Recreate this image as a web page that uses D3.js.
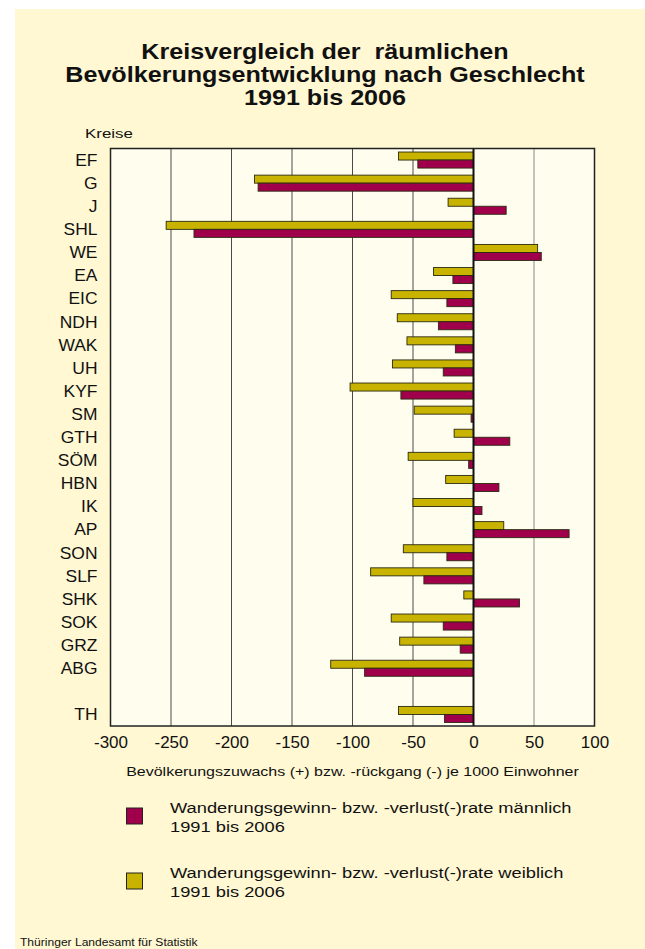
<!DOCTYPE html>
<html>
<head>
<meta charset="utf-8">
<script src="https://cdn.jsdelivr.net/npm/d3@7"></script>
<style>
  html, body { margin: 0; padding: 0; background: #ffffff; }
  svg { display: block; font-family: "Liberation Sans", Arial, sans-serif; }
  text { white-space: pre; }
</style>
</head>
<body>
<svg id="chart" width="645" height="949"></svg>
<script>
const categories = ["EF","G","J","SHL","WE","EA","EIC","NDH","WAK","UH","KYF","SM","GTH","SÖM","HBN","IK","AP","SON","SLF","SHK","SOK","GRZ","ABG","TH"];
const weiblich = [-62, -181, -21, -254, 53, -33, -68, -63, -55, -67, -102, -49, -16, -54, -23, -50, 25, -58, -85, -8, -68, -61, -118, -62];
const maennlich = [-46, -178, 27, -231, 56, -17, -22, -29, -15, -25, -60, -2, 30, -4, 21, 7, 79, -22, -41, 38, -25, -11, -90, -24];
const xTicks = [-300, -250, -200, -150, -100, -50, 0, 50, 100];
const titleLines = ["Kreisvergleich der  räumlichen", "Bevölkerungsentwicklung nach Geschlecht", "1991 bis 2006"];
const legendItems = [
  {key: "m", line1: "Wanderungsgewinn- bzw. -verlust(-)rate männlich", line2: "1991 bis 2006"},
  {key: "w", line1: "Wanderungsgewinn- bzw. -verlust(-)rate weiblich", line2: "1991 bis 2006"}
];
const colors = {w: "#c8b400", m: "#a0004b"};

const svg = d3.select("#chart");
svg.append("rect").attr("x", 15).attr("y", 9).attr("width", 630).attr("height", 940).attr("fill", "#fff8d3");

function stext(parent, x, y, txt, size, sx, anchor, weight) {
  return parent.append("text")
    .attr("transform", `translate(${x},${y}) scale(${sx},1)`)
    .attr("text-anchor", anchor || "start")
    .attr("font-size", size)
    .attr("font-weight", weight || "normal")
    .attr("fill", "#111")
    .text(txt);
}

const plot = {left: 110.5, right: 594.5, top: 148.5, bottom: 726};
const x = d3.scaleLinear().domain([-300, 100]).range([plot.left, plot.right]);
const domainY = [...categories.slice(0, -1), "__gap__", categories[categories.length - 1]];
const y = d3.scaleBand().domain(domainY).range([plot.top, plot.bottom]).padding(0);
const sub = d3.scaleBand().domain(["w", "m"]).range([0, y.bandwidth()]).paddingInner(0).paddingOuter(0.44).align(0.5);

svg.append("rect").attr("x", plot.left).attr("y", plot.top)
  .attr("width", plot.right - plot.left).attr("height", plot.bottom - plot.top)
  .attr("fill", "#fffdee");

// title
titleLines.forEach((t, i) => stext(svg, 325, [59, 82, 105][i], t, 21.5, 1.17, "middle", "bold"));

// gridlines
svg.append("g").selectAll("line").data(xTicks.filter(t => t > -300 && t < 100 && t !== 0)).join("line")
  .attr("x1", d => x(d)).attr("x2", d => x(d))
  .attr("y1", plot.top).attr("y2", plot.bottom)
  .attr("stroke", d => d > 0 ? "#8a8a8a" : "#4a4a4a").attr("stroke-width", 1);

// bars
const rows = categories.map((c, i) => ({c, w: weiblich[i], m: maennlich[i]}));
const g = svg.append("g");
rows.forEach(r => {
  ["w", "m"].forEach(k => {
    const v = r[k];
    g.append("rect")
      .attr("x", x(Math.min(0, v)))
      .attr("y", y(r.c) + sub(k))
      .attr("width", Math.abs(x(v) - x(0)))
      .attr("height", sub.bandwidth())
      .attr("fill", colors[k])
      .attr("stroke", "#2a2a10").attr("stroke-width", 0.9);
  });
});

// zero line
svg.append("line").attr("x1", x(0)).attr("x2", x(0)).attr("y1", plot.top).attr("y2", plot.bottom)
  .attr("stroke", "#111").attr("stroke-width", 2);

// border
svg.append("rect").attr("x", plot.left).attr("y", plot.top)
  .attr("width", plot.right - plot.left).attr("height", plot.bottom - plot.top)
  .attr("fill", "none").attr("stroke", "#222").attr("stroke-width", 1.5);

// x axis labels
const xAxis = d3.axisBottom(x).tickValues(xTicks).tickSize(0).tickFormat(d => String(d));
const xg = svg.append("g").attr("transform", `translate(0,${plot.bottom})`).call(xAxis);
xg.select(".domain").remove();
xg.selectAll("text").attr("font-size", 16.5).attr("fill", "#111")
  .attr("font-family", "'Liberation Sans', Arial, sans-serif")
  .attr("y", 0).attr("dy", 0)
  .attr("transform", "translate(0,22) scale(1.03,1)");

// y axis labels
const ySx = 1.09;
const yAxis = d3.axisLeft(y).tickSize(0).tickFormat(d => d === "__gap__" ? "" : d);
const yg = svg.append("g").attr("transform", `translate(${plot.left},0)`).call(yAxis);
yg.select(".domain").remove();
yg.selectAll("text").attr("font-size", 16).attr("fill", "#111")
  .attr("font-family", "'Liberation Sans', Arial, sans-serif")
  .attr("x", 0).attr("dy", "0.36em")
  .attr("transform", `translate(-13,0) scale(${ySx},1)`);

// axis titles
stext(svg, (plot.left + plot.right) / 2, 776, "Bevölkerungszuwachs (+) bzw. -rückgang (-) je 1000 Einwohner", 12.5, 1.28, "middle");
stext(svg, 85, 137.5, "Kreise", 13, 1.3, "start");

// legend
legendItems.forEach((d, i) => {
  const oy = i * 65;
  svg.append("rect").attr("x", 126.5).attr("y", 808 + oy).attr("width", 16).attr("height", 16)
    .attr("fill", colors[d.key]).attr("stroke", "#222").attr("stroke-width", 1);
  stext(svg, 170, 813 + oy, d.line1, 15.5, 1.18, "start");
  stext(svg, 170, 831.5 + oy, d.line2, 15.5, 1.18, "start");
});

// footer
stext(svg, 20, 946, "Thüringer Landesamt für Statistik", 10.5, 1.15, "start");
</script>
</body>
</html>
